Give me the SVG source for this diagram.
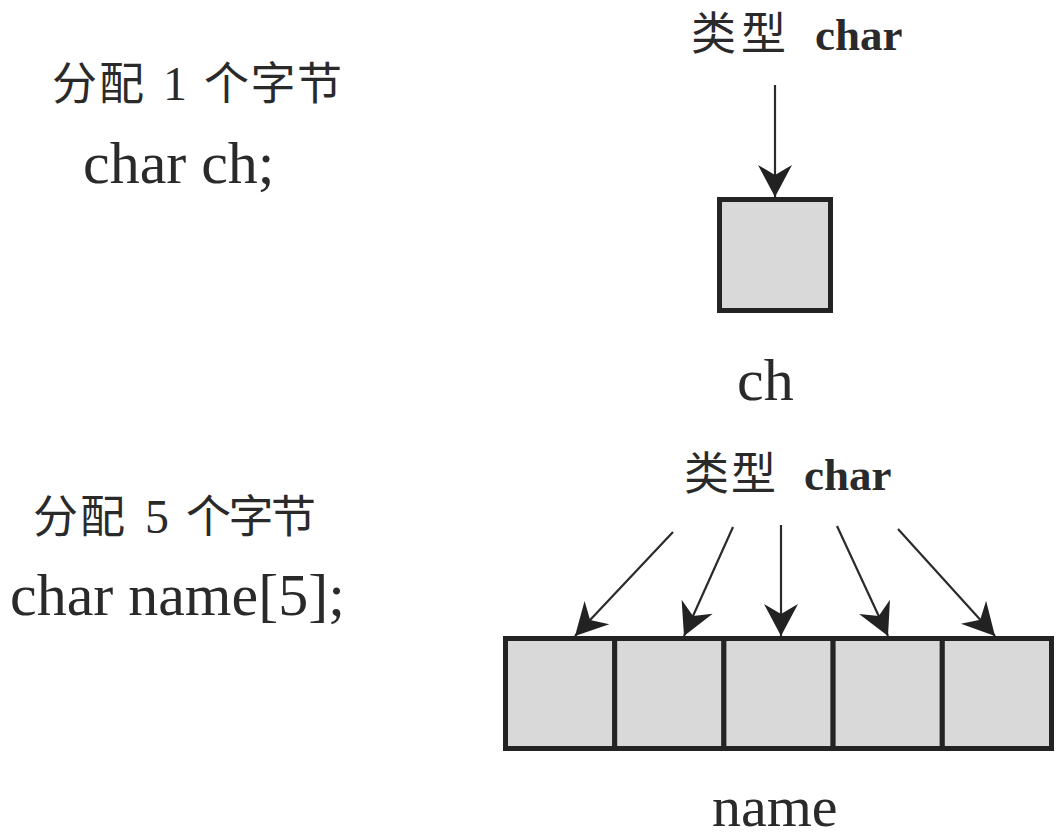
<svg xmlns="http://www.w3.org/2000/svg" width="1056" height="839" viewBox="0 0 1056 839">
<style>
.cjk{font-family:"Noto Sans CJK SC","Noto Sans CJK JP",sans-serif;font-size:45px;fill:#2a2a2a}
.dg{font-family:"Liberation Serif","Times New Roman",serif;font-size:48px;fill:#2a2a2a}
.rm{font-family:"Liberation Serif","Times New Roman",serif;font-size:60px;fill:#2a2a2a}
.lbl{font-family:"Liberation Serif","Times New Roman",serif;font-size:45px;font-weight:bold;fill:#2a2a2a}
.cell{fill:#d9d9d9;stroke:#232323;stroke-width:5}
.arr{stroke:#2a2a2a;stroke-width:2.2;fill:none;marker-end:url(#ah)}
</style>
<defs>
<marker id="ah" markerUnits="userSpaceOnUse" markerWidth="40" markerHeight="40" viewBox="-36 -20 40 40" refX="0" refY="0" orient="auto">
<path d="M0,0 L-32,-17 L-22,0 L-32,17 Z" fill="#222"/>
</marker>
</defs>
<rect width="1056" height="839" fill="#ffffff"/>
<g id="left-top">
<text class="cjk" x="52" y="100" textLength="92">分配</text>
<text class="dg" x="163" y="100">1</text>
<text class="cjk" x="204" y="100" textLength="138">个字节</text>
<text class="rm" x="83" y="183">char ch;</text>
</g>
<g id="left-bottom">
<text class="cjk" x="33" y="533" textLength="92">分配</text>
<text class="dg" x="145" y="533">5</text>
<text class="cjk" x="186" y="533" textLength="130">个字节</text>
<text class="rm" x="10" y="615">char name[5];</text>
</g>
<g id="type-top">
<text class="cjk" x="691" y="50" textLength="95">类型</text>
<text class="lbl" x="815" y="50">char</text>
</g>
<g id="ch-box">
<rect class="cell" x="719.5" y="199.5" width="111" height="111"/>
<text class="rm" x="737" y="400">ch</text>
</g>
<g id="type-bottom">
<text class="cjk" x="684" y="490" textLength="92">类型</text>
<text class="lbl" x="804" y="490">char</text>
</g>
<g id="name-array">
<rect class="cell" x="505.5" y="638.5" width="109.2" height="110"/>
<rect class="cell" x="614.7" y="638.5" width="109.2" height="110"/>
<rect class="cell" x="723.9" y="638.5" width="109.2" height="110"/>
<rect class="cell" x="833.1" y="638.5" width="109.2" height="110"/>
<rect class="cell" x="942.3" y="638.5" width="109.2" height="110"/>
<text class="rm" x="712" y="826" style="font-size:58px">name</text>
</g>
<g id="connectors">
<line class="arr" x1="775" y1="85" x2="775" y2="197"/>
<line class="arr" x1="673" y1="532" x2="575" y2="636"/>
<line class="arr" x1="733" y1="527" x2="684" y2="636"/>
<line class="arr" x1="781" y1="525" x2="781" y2="636"/>
<line class="arr" x1="837" y1="526" x2="888" y2="636"/>
<line class="arr" x1="898" y1="529" x2="995" y2="636"/>
</g>
</svg>
